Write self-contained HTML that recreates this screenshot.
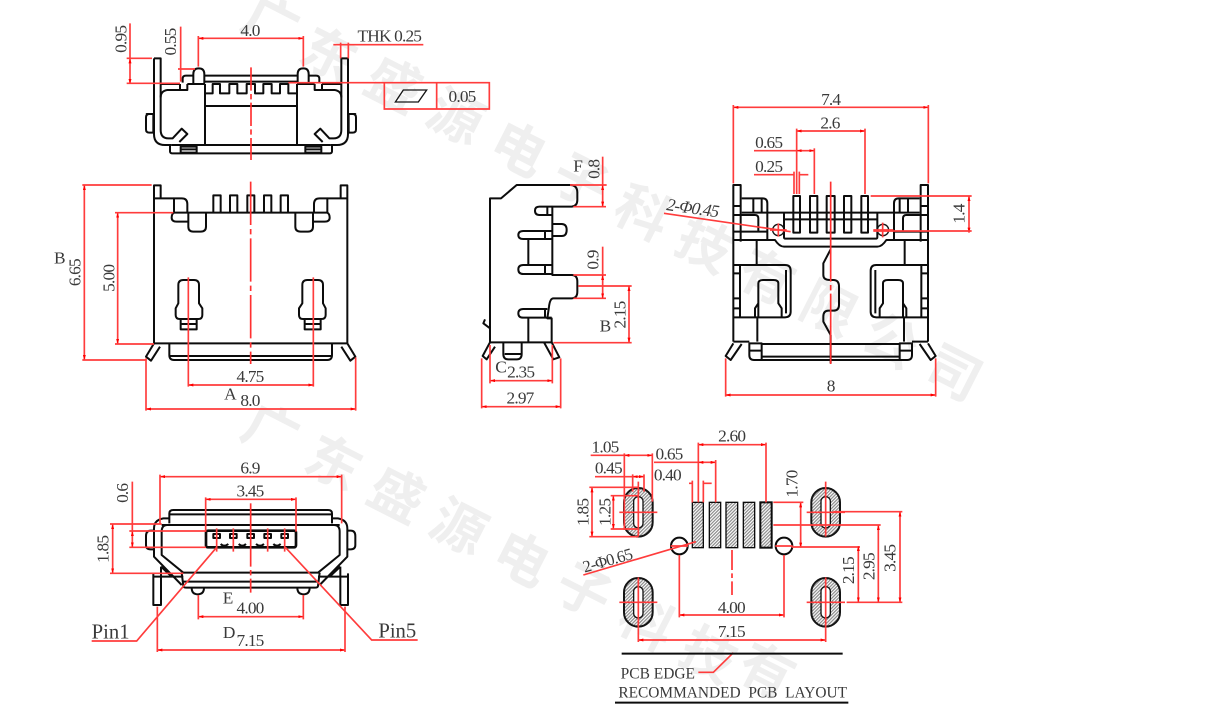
<!DOCTYPE html>
<html><head><meta charset="utf-8"><style>
html,body{margin:0;padding:0;background:#fff;width:1205px;height:708px;overflow:hidden}
svg{display:block;overflow:hidden}
.k{fill:none;stroke:#0c0c0c;stroke-width:6;stroke-linejoin:round}
.n{fill:none;stroke:#141414;stroke-width:4}
.r{fill:none;stroke:#ff3c3c;stroke-width:5}
.d{fill:none;stroke:#ff3c3c;stroke-width:5;marker-start:url(#a);marker-end:url(#a)}
.c{fill:none;stroke:#ff3030;stroke-width:5;stroke-dasharray:130 12 16 12}
text{font-family:"Liberation Serif",serif;fill:#3a3a3a}
.t{font-size:52px;letter-spacing:-2.5px;text-anchor:middle}
.w{font-family:"Noto Sans CJK SC","WenQuanYi Zen Hei",sans-serif;font-size:54px;font-weight:700;fill:#efefef;text-anchor:middle}
</style></head><body>
<svg width="1205" height="708" viewBox="0 0 1205 708" xmlns="http://www.w3.org/2000/svg">
<defs>
<marker id="a" viewBox="0 0 10 10" refX="10" refY="5" markerWidth="3" markerHeight="1.8" orient="auto-start-reverse" preserveAspectRatio="none"><path d="M10,5L0,0V10Z" fill="#f00"/></marker>
<pattern id="h" width="7" height="7" patternUnits="userSpaceOnUse" patternTransform="rotate(-45)"><rect width="7" height="7" fill="#fff"/><rect width="7" height="3.6" fill="#8a8a8a"/></pattern>

<g id="v1">
<path class="k" d="M162,145H182V360Q182,385 205,385H218L245,356L262,372L238,396M162,145V372Q162,405 195,405H215"/>
<path class="k" d="M182,222H240M262,222H315M182,262Q182,243 202,240H262V222M240,240V222"/>
<path class="k" d="M140,312H160V368H148Q138,368 138,358V322Q138,312 148,312Z"/>
<path class="k" d="M315,222V405M280,220V192Q280,175 296,175Q313,175 313,192V220M248,218V206Q248,197 258,197H280"/>
<path class="k" d="M210,405V424Q210,430 218,430H453M215,405H453M242,410H290V428H242ZM242,418H290"/>
</g>

<g id="v2">
<path class="k" d="M312,520V85H372M312,85V46H332V85"/>
<path class="k" d="M372,128V85H395Q412,85 412,102V128M372,128Q365,132 365,143Q365,155 380,155H415M415,128V170Q415,185 430,185H452Q468,185 468,170V128"/>
<path class="k" d="M385,345Q385,330 400,330H432Q447,330 447,345V400L457,415V435Q457,447 445,447H390Q377,447 377,435V415L385,400ZM392,447V478H440V447M392,462H440"/>
<path class="k" d="M312,520L288,560L303,572L330,530M312,520H355M358,520V555Q358,570 372,570H602M358,558H602M355,520H602"/>
<path class="k" d="M490,128V76H512V128M540,128V76H562V128M370,128H602"/>
</g>

<g id="v4">
<path class="k" d="M220,755V285H242V455M220,348H242M220,375H242M220,425H320M220,450H345Q358,470 372,470H512"/>
<path class="k" d="M245,325H308Q322,325 322,340V450M245,368H512M280,325V368M305,325V368"/>
<path class="k" d="M240,375H285Q295,375 295,385V425M372,368V442Q372,446 378,446H512M372,388H512"/>
<path class="k" d="M400,318H420V428H400ZM450,318H472V428H450Z"/>
<path class="k" d="M290,450V525M220,525H375Q392,525 392,542V665Q392,682 375,682H220M378,540V670M240,525V682M220,550H240M220,625H240M220,655H240"/>
<path class="k" d="M295,682V580Q295,570 310,570H340Q355,570 355,580V640L365,655V682M295,640L285,655V682M292,682V755"/>
<path class="k" d="M220,760L197,798L212,810L245,762M220,755H268M268,760H305V810H282Q268,810 268,795ZM305,762H512M305,770V800M305,810H512M308,800H512M268,782H305"/>
<circle class="n" cx="355" cy="420" r="17"/>
</g>

<g id="v5">
<path class="k" d="M268,190V160Q268,150 280,150H512M268,163H512M245,195H512M268,175H250Q222,180 222,205V290L305,375M245,215Q245,195 262,195M245,215V285L310,338H512"/>
<path class="k" d="M222,212H212Q198,212 198,228V255Q198,268 212,268H222"/>
<path class="k" d="M220,340V435H243V320M220,350H310M305,338L310,378Q310,383 320,383H512M310,365H512M243,320L275,350"/>
<path class="k" d="M335,383Q335,403 353,403Q372,403 372,383"/>
</g>

<g id="ov"><rect x="162" y="174" width="86" height="146" rx="43" fill="url(#h)" stroke="#141414" stroke-width="6"/><rect x="191" y="200" width="28" height="94" rx="14" fill="#fff" stroke="#141414" stroke-width="4"/></g>
</defs>

<rect width="1205" height="708" fill="#fff"/>

<!-- watermark -->
<g>
<text class="w" transform="translate(262,40) rotate(27)">广</text>
<text class="w" transform="translate(320,72) rotate(27)">东</text>
<text class="w" transform="translate(385,102) rotate(27)">盛</text>
<text class="w" transform="translate(447,134) rotate(27)">源</text>
<text class="w" transform="translate(510,166) rotate(27)">电</text>
<text class="w" transform="translate(572,198) rotate(27)">子</text>
<text class="w" transform="translate(634,230) rotate(27)">科</text>
<text class="w" transform="translate(696,262) rotate(27)">技</text>
<text class="w" transform="translate(758,294) rotate(27)">有</text>
<text class="w" transform="translate(820,326) rotate(27)">限</text>
<text class="w" transform="translate(882,358) rotate(27)">公</text>
<text class="w" transform="translate(945,390) rotate(27)">司</text>
<text class="w" transform="translate(262,448) rotate(27)">广</text>
<text class="w" transform="translate(325,480) rotate(27)">东</text>
<text class="w" transform="translate(388,512) rotate(27)">盛</text>
<text class="w" transform="translate(450,544) rotate(27)">源</text>
<text class="w" transform="translate(513,576) rotate(27)">电</text>
<text class="w" transform="translate(575,608) rotate(27)">子</text>
<text class="w" transform="translate(638,640) rotate(27)">科</text>
<text class="w" transform="translate(700,672) rotate(27)">技</text>
<text class="w" transform="translate(758,688) rotate(27)">有</text>
</g>

<!-- VIEW 1 -->
<g transform="translate(100,10) scale(.33333)">
<use href="#v1"/><use href="#v1" transform="translate(906,0) scale(-1,1)"/>
<path class="k" d="M315,215H592M315,250H338V222H360V250H388V222H412V250H440V222H465V250H490V222H515V250H540V222H565V250H590M315,288H592"/>
<path class="k" d="M313,197H593"/>
<path class="d" d="M295,85H610"/><path class="r" d="M295,78V170M610,78V170"/>
<path class="d" d="M90,145V222"/><path class="r" d="M90,40V145M80,145H156M80,220H240"/>
<path class="r" d="M242,50V215M234,177H285"/>
<path class="r" d="M700,104H970M722,98V145M745,98V145"/>
<path class="c" d="M453,172V450" style="stroke-dasharray:70 10 16 10"/>
<path class="r" d="M565,218H853M853,218H1168V297H853ZM1010,218V297"/>
<path class="n" d="M886,276L910,240H980L955,276Z"/>
<text class="t" x="450" y="78">4.0</text>
<text class="t" x="868" y="94">THK 0.25</text>
<text class="t" x="1086" y="276">0.05</text>
<text class="t" transform="translate(80,88) rotate(-90)">0.95</text>
<text class="t" transform="translate(228,96) rotate(-90)">0.55</text>
</g>

<!-- VIEW 2 -->
<g transform="translate(50,170) scale(.33333)">
<use href="#v2"/><use href="#v2" transform="translate(1204,0) scale(-1,1)"/>
<path class="k" d="M592,128V76H613V128"/>
<path class="c" d="M602,35V582"/>
<path class="d" d="M103,45V570"/><path class="r" d="M97,45H305M97,570H290"/>
<path class="d" d="M203,128V522"/><path class="r" d="M195,128H370M195,522H312"/>
<path class="r" d="M415,322V650M790,322V650"/>
<path class="d" d="M415,645H790"/>
<path class="d" d="M288,717H917"/><path class="r" d="M288,565V722M917,562V722"/>
<text class="t" x="28" y="280">B</text>
<text class="t" transform="translate(92,308) rotate(-90)">6.65</text>
<text class="t" transform="translate(194,325) rotate(-90)">5.00</text>
<text class="t" x="600" y="636">4.75</text>
<text class="t" x="540" y="688">A</text>
<text class="t" x="600" y="708">8.0</text>
</g>

<!-- VIEW 3 -->
<g transform="translate(470,150) scale(.33333)">
<path class="k" d="M60,577V145H93L140,105H300Q322,105 322,128V150Q322,168 305,170H247V375H305Q322,375 322,395V425Q322,445 305,445H250Q240,445 237,470L232,505H245V577"/>
<path class="k" d="M247,170H208Q195,170 195,182Q195,195 208,195H247M232,170V195M247,222H275Q290,222 290,240Q290,258 275,258H247"/>
<path class="k" d="M247,243H160Q145,243 145,255Q145,267 160,267H247M225,243V267M175,267V345M247,345H160Q145,345 145,358Q145,372 160,372H247M225,345V372"/>
<path class="k" d="M232,477H160Q145,477 145,490Q145,503 160,503H245M225,477V503M175,503V577"/>
<path class="k" d="M60,577H245M60,577L38,618L50,628L75,590M222,577L250,628L268,622L245,577M100,577V612Q100,628 115,628H140Q155,628 155,612V577M104,612H152"/>
<path class="k" d="M45,508L40,520L60,535"/>
<path class="r" d="M300,105H410M310,170H408M310,375H408M310,445H408M325,408H485M250,578H485"/>
<path class="d" d="M398,105V170"/><path class="r" d="M398,20V105"/>
<path class="d" d="M398,375V445"/><path class="r" d="M398,290V375"/>
<path class="d" d="M477,408V578"/>
<path class="d" d="M60,692H247"/><path class="r" d="M60,585V700M247,585V700"/>
<path class="d" d="M35,770H272"/><path class="r" d="M35,625V775M272,625V775"/>
<text class="t" x="323" y="65">F</text>
<text class="t" transform="translate(388,58) rotate(-90)">0.8</text>
<text class="t" transform="translate(386,330) rotate(-90)">0.9</text>
<text class="t" transform="translate(466,495) rotate(-90)">2.15</text>
<text class="t" x="405" y="545">B</text>
<text class="t" x="92" y="668">C</text>
<text class="t" x="152" y="682">2.35</text>
<text class="t" x="150" y="760">2.97</text>
</g>

<!-- VIEW 4 -->
<g transform="translate(660,90) scale(.33333)">
<use href="#v4"/><use href="#v4" transform="translate(1024,0) scale(-1,1)"/>
<path class="k" d="M500,318H524V428H500Z"/>
<path class="k" d="M512,478L490,520V555Q490,570 510,570H520Q537,570 537,590V645Q537,662 520,662H505Q490,662 490,680V695L512,735"/>
<path class="k" d="M512,735V820"/>
<path class="c" d="M512,275V822" style="stroke-dasharray:300 10 16 10"/>
<path class="d" d="M220,52H805"/><path class="r" d="M220,45V280M805,45V280"/>
<path class="d" d="M410,123H615"/><path class="r" d="M410,116V312M615,116V312"/>
<path class="r" d="M282,182H410"/><path class="d" d="M410,182H463"/><path class="r" d="M463,175V312"/>
<path class="r" d="M282,254H400M402,245V312M418,245V312M420,254H445"/>
<path class="d" d="M927,318V428"/><path class="r" d="M632,318H935M640,423H935"/>
<path class="d" d="M197,915H827"/><path class="r" d="M197,805V920M827,805V920"/>
<path class="r" d="M12,370L392,425M355,400V440M330,420H380M668,398V442M640,420H700"/>
<text class="t" x="512" y="45">7.4</text>
<text class="t" x="510" y="116">2.6</text>
<text class="t" x="326" y="174">0.65</text>
<text class="t" x="326" y="246">0.25</text>
<text class="t" transform="translate(18,360) rotate(8)" style="text-anchor:start;font-style:italic">2-Φ0.45</text>
<text class="t" transform="translate(914,372) rotate(-90)">1.4</text>
<text class="t" x="512" y="905">8</text>
</g>

<!-- VIEW 5 -->
<g transform="translate(80,460) scale(.33333)">
<use href="#v5"/><use href="#v5" transform="translate(1024,0) scale(-1,1)"/>
<rect x="378" y="212" width="270" height="50" rx="6" fill="none" stroke="#0c0c0c" stroke-width="8"/>
<path class="k" d="M400,222H420V234H400ZM450,222H470V234H450ZM502,222H522V234H502ZM553,222H573V234H553ZM604,222H624V234H604Z"/>
<path class="k" d="M422,252Q432,262 445,252M476,252Q487,262 498,252M528,252Q540,262 552,252M580,252Q590,262 602,252"/>
<path class="c" d="M512,130V398" style="stroke-dasharray:190 10 16 10"/>
<path class="d" d="M240,50H785"/><path class="r" d="M240,44V190M785,44V190"/>
<path class="d" d="M377,118H648"/><path class="r" d="M377,112V215M648,112V215"/>
<path class="d" d="M157,213V262"/><path class="r" d="M157,65V213M148,213H378M148,262H378"/>
<path class="d" d="M98,192V340"/><path class="r" d="M90,192H245M90,340H310"/>
<path class="r" d="M410,205V275M460,205V275M563,205V275M614,205V275"/>
<path class="d" d="M355,470H670"/><path class="r" d="M355,405V478M670,405V478"/>
<path class="d" d="M232,570H795"/><path class="r" d="M232,440V576M795,440V576"/>
<path class="r" d="M35,543H170L410,262M1013,540H875L616,262"/>
<text class="t" x="510" y="40">6.9</text>
<text class="t" x="510" y="110">3.45</text>
<text class="t" transform="translate(144,100) rotate(-90)">0.6</text>
<text class="t" transform="translate(86,268) rotate(-90)">1.85</text>
<text class="t" x="443" y="430">E</text>
<text class="t" x="510" y="460">4.00</text>
<text class="t" x="446" y="534">D</text>
<text class="t" x="510" y="558">7.15</text>
<text x="35" y="535" style="font-size:62px">Pin1</text>
<text x="895" y="532" style="font-size:62px">Pin5</text>
</g>

<!-- VIEW 6 -->
<g transform="translate(570,430) scale(.33333)">
<use href="#ov"/><use href="#ov" transform="translate(562,0)"/><use href="#ov" transform="translate(0,270)"/><use href="#ov" transform="translate(562,270)"/>
<g fill="url(#h)" stroke="#0c0c0c" stroke-width="4">
<rect x="367" y="217" width="33" height="136"/><rect x="418" y="217" width="34" height="136"/><rect x="468" y="217" width="35" height="136"/><rect x="520" y="217" width="34" height="136"/><rect x="571" y="217" width="34" height="136" stroke-width="6"/>
</g>
<circle class="k" cx="328" cy="348" r="25"/><circle class="k" cx="642" cy="348" r="25"/>
<path class="r" d="M148,247H262M205,155V320M710,247H825M767,155V320M148,517H262M205,442V595M710,517H825M767,442V595M302,348H354M616,348H668"/>
<path class="d" d="M385,44H588"/><path class="r" d="M385,38V217M588,38V217"/>
<path class="r" d="M252,97H385"/><path class="d" d="M385,97H437"/><path class="r" d="M437,90V217"/>
<path class="r" d="M357,160H367M400,160H425M367,152V217M400,152V217"/>
<path class="r" d="M62,76H163"/><path class="d" d="M163,76H247"/><path class="r" d="M163,70V300M247,70V215"/>
<path class="r" d="M75,140H188"/><path class="d" d="M188,140H222"/><path class="r" d="M188,133V185M222,133V185"/>
<path class="d" d="M66,172V320"/><path class="r" d="M58,172H205M58,320H205"/>
<path class="d" d="M130,197V297"/><path class="r" d="M122,197H205M122,297H205"/>
<path class="d" d="M692,217V353"/><path class="r" d="M610,217H700M665,351H870"/>
<path class="d" d="M865,348V517"/><path class="d" d="M925,285V517"/><path class="d" d="M990,245V517"/>
<path class="r" d="M610,285H932M790,245H997M830,517H997"/>
<path class="c" d="M486,360V495" style="stroke-dasharray:60 10 14 10"/>
<path class="d" d="M328,555H642"/><path class="r" d="M328,375V562M642,375V562"/>
<path class="d" d="M205,630H767"/><path class="r" d="M205,595V636M767,595V636"/>
<path class="r" d="M40,435L378,335M385,727H430L490,668"/>
<path d="M155,671H818M135,818H835" fill="none" stroke="#0c0c0c" stroke-width="6"/>
<text class="t" x="485" y="35">2.60</text>
<text class="t" x="297" y="88">0.65</text>
<text class="t" x="292" y="151">0.40</text>
<text class="t" x="105" y="68">1.05</text>
<text class="t" x="115" y="131">0.45</text>
<text class="t" transform="translate(56,247) rotate(-90)">1.85</text>
<text class="t" transform="translate(122,247) rotate(-90)">1.25</text>
<text class="t" transform="translate(682,162) rotate(-90)">1.70</text>
<text class="t" transform="translate(852,422) rotate(-90)">2.15</text>
<text class="t" transform="translate(914,410) rotate(-90)">2.95</text>
<text class="t" transform="translate(977,385) rotate(-90)">3.45</text>
<text class="t" x="484" y="549">4.00</text>
<text class="t" x="484" y="621">7.15</text>
<text transform="translate(44,428) rotate(-16)" style="font-size:50px;letter-spacing:-2px">2-Φ0.65</text>
<text x="152" y="746" style="font-size:48px" textLength="223" lengthAdjust="spacingAndGlyphs">PCB EDGE</text>
<text x="145" y="803" style="font-size:48px;white-space:pre" textLength="686" lengthAdjust="spacingAndGlyphs" xml:space="preserve">RECOMMANDED  PCB  LAYOUT</text>
</g>
</svg>
</body></html>
